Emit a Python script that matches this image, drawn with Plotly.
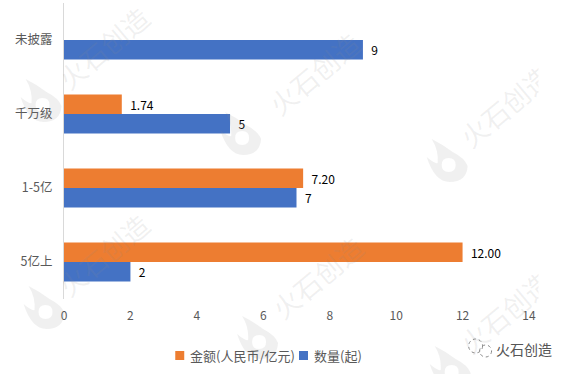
import plotly.graph_objects as go

categories = ["5亿上", "1-5亿", "千万级", "未披露"]
amount = [12.00, 7.20, 1.74, None]
amount_labels = ["12.00", "7.20", "1.74", ""]
count = [2, 7, 5, 9]
count_labels = ["2", "7", "5", "9"]
amount_name = "金额(人民币/亿元)"
count_name = "数量(起)"
ORANGE = "#ED7D31"
BLUE = "#4472C4"

W, H = 568, 374
L, R, T, B = 63.5, 529.5, 3, 299
FONT = "Noto Sans CJK SC"
GREY = "#595959"
WM = "rgba(140,140,140,0.13)"


def px(x):
    return (x - L) / (R - L)


def py(y):
    return 1 - (y - T) / (B - T)


def pathstr(cmds, cx, cy):
    out = []
    for c in cmds:
        op, pts = c[0], c[1:]
        coords = " ".join(f"{px(cx + pts[i])} {py(cy + pts[i + 1])}" for i in range(0, len(pts), 2))
        out.append(f"{op} {coords}")
    return " ".join(out) + " Z"


fig = go.Figure()
fig.add_trace(go.Bar(y=categories, x=count, name=count_name, orientation="h",
                     marker=dict(color=BLUE, line_width=0),
                     text=count_labels, texttemplate="\u00a0\u00a0%{text}",
                     textposition="outside", cliponaxis=False,
                     textfont=dict(color="#000000", size=12, family=FONT)))
fig.add_trace(go.Bar(y=categories, x=amount, name=amount_name, orientation="h",
                     marker=dict(color=ORANGE, line_width=0),
                     text=amount_labels, texttemplate="\u00a0\u00a0%{text}",
                     textposition="outside", cliponaxis=False,
                     textfont=dict(color="#000000", size=12, family=FONT)))


def note(x, y, text, **kw):
    base = dict(x=px(x), y=py(y), xref="paper", yref="paper", text=text, showarrow=False,
                xanchor="center", yanchor="middle")
    base.update(kw)
    return base


annotations = []
for x, y in [(103, 47), (314, 73), (505, 106), (103, 254), (317, 277), (505, 312)]:
    annotations.append(note(x, y, "火石创造", textangle=-40,
                            font=dict(size=27, color=WM, family=FONT)))
# the watermark image stops at x = 539
for yc in (100, 310):
    annotations.append(note(539, yc, " ", xanchor="left", width=29, height=80,
                            bgcolor="#ffffff", borderpad=0))
annotations.append(note(524, 349, "火石创造", font=dict(size=14, color="#555555", family=FONT)))
annotations.append(note(188, 355, amount_name, xanchor="left", font=dict(size=13, color=GREY, family=FONT)))
annotations.append(note(312, 355, count_name, xanchor="left", font=dict(size=13, color=GREY, family=FONT)))

flame = [("M", -15, -21), ("Q", -3, -15, 6, -8), ("Q", 18, -2, 21, 6), ("Q", 20, 22, 3, 22),
         ("Q", -12, 22, -20, -3), ("Q", -12, 4, -9, 3), ("Q", -8, -10, -15, -21)]
hole = [("M", 2, -2), ("Q", -5, -2, -5, 5), ("Q", -5, 12, 2, 12), ("Q", 9, 12, 9, 5), ("Q", 9, -2, 2, -2)]

shapes = []
for x, y in [(40, 100), (240, 133), (447, 160), (43, 307), (257, 337), (450, 367)]:
    shapes.append(dict(type="path", xref="paper", yref="paper", layer="above", line_width=0,
                       fillcolor=WM, path=pathstr(flame, x, y) + " " + pathstr(hole, x, y)))
for x, y, r in [(476, 346, 7), (486, 351, 6)]:
    shapes.append(dict(type="circle", xref="paper", yref="paper", layer="above",
                       x0=px(x - r), x1=px(x + r), y0=py(y + r), y1=py(y - r),
                       line=dict(color="#888888", width=1, dash="dot"), fillcolor="rgba(0,0,0,0)"))
for x0, color in [(175, ORANGE), (299, BLUE)]:
    shapes.append(dict(type="rect", xref="paper", yref="paper", layer="above", line_width=0,
                       x0=px(x0), x1=px(x0 + 9), y0=py(360), y1=py(351), fillcolor=color))

fig.update_layout(
    width=W, height=H, autosize=False,
    margin=dict(l=L, r=W - R, t=T, b=H - B, pad=0),
    paper_bgcolor="#ffffff", plot_bgcolor="#ffffff",
    barmode="group", bargap=0.47, bargroupgap=0,
    font=dict(family=FONT, color=GREY, size=12),
    hovermode=False, showlegend=False,
    xaxis=dict(range=[0, 14], dtick=2, showgrid=False, zeroline=False, showline=False,
               tickfont=dict(size=12, color=GREY), ticks="", ticklabelstandoff=8),
    yaxis=dict(showgrid=False, zeroline=False, showline=True, linecolor="#D9D9D9", linewidth=1,
               ticks="", tickfont=dict(size=12.5, color=GREY), ticklabelstandoff=8),
    annotations=annotations, shapes=shapes,
)
fig.write_html("out.html", post_script="document.body.style.margin='0';",
               config={"displayModeBar": False})
